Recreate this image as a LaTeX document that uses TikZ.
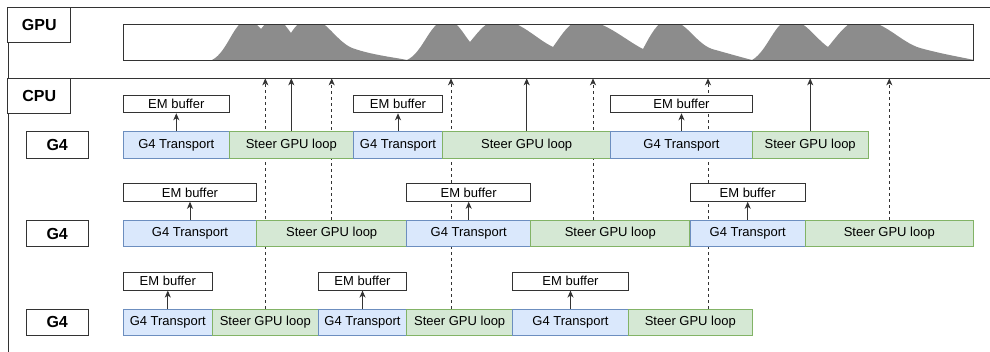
\documentclass[tikz,border=0pt]{standalone}
\usepackage{fontspec}
\setmainfont{Liberation Sans}
\usetikzlibrary{arrows.meta, positioning, backgrounds}
\definecolor{tblue}{HTML}{DAE8FC}
\definecolor{tblueline}{HTML}{6C8EBF}
\definecolor{sgreen}{HTML}{D5E8D4}
\definecolor{sgreenline}{HTML}{82B366}
\definecolor{gpugray}{HTML}{8C8C8C}
\definecolor{edge}{HTML}{333333}

\begin{document}
\begin{tikzpicture}[x=1pt, y=-1pt,
    rim/.style={draw=edge, line width=1pt},
    tag/.style={draw=edge, line width=1pt, fill=white, inner sep=0pt, font=\fontsize{16}{19}\selectfont\bfseries},
    blk/.style={line width=1pt, inner sep=0pt, minimum height=26.5pt, font=\fontsize{13}{15}\selectfont},
    trans/.style={blk, draw=tblueline, fill=tblue},
    steer/.style={blk, draw=sgreenline, fill=sgreen},
    buf/.style={draw=edge, line width=1pt, fill=white, inner sep=0pt, minimum height=17.5pt, font=\fontsize{13}{15}\selectfont},
    up/.style={draw=edge, line width=1pt, -{Stealth[length=7pt, width=6pt, inset=2pt]}},
    sync/.style={up, dash pattern=on 3pt off 3pt}]
    \useasboundingbox (0,0) rectangle (990,352);

    % Frame and lane separator
    \draw[rim] (990,7.3) -- (8,7.3) -- (8,352);
    \draw[rim] (8,78.3) -- (990,78.3);
    \coordinate (sep) at (0,78.3);

    % GPU lane with load profile
    \node[tag, minimum width=62.7pt, minimum height=35.4pt] (gputag) at (39.3,25) {GPU};
    \node[minimum width=850pt, minimum height=35pt, inner sep=0pt] (load) at (548.3,42.5) {};
    \begin{scope}
        \clip (load.north west) rectangle (load.south east);
        \fill[gpugray] (212,60)
            .. controls (228,52) and (234,20) .. (248,20)
            .. controls (254,20) and (257,25) .. (261,29)
            .. controls (265,23) and (270,20) .. (276,20)
            .. controls (283,20) and (287,28) .. (291,33)
            .. controls (296,25) and (302,19) .. (311,19)
            .. controls (326,19) and (336,41) .. (352,48)
            .. controls (372,55) and (392,57) .. (407,60)
            .. controls (424,52) and (430,20) .. (447,20)
            .. controls (457,20) and (464,35) .. (470,42)
            .. controls (479,31) and (487,20) .. (499,20)
            .. controls (520,20) and (536,39) .. (553,47)
            .. controls (561,36) and (570,20) .. (582,20)
            .. controls (604,20) and (625,40) .. (643,49)
            .. controls (650,36) and (658,20) .. (668,20)
            .. controls (686,20) and (695,43) .. (712,49)
            .. controls (730,54) and (744,58) .. (752,60)
            .. controls (768,51) and (775,20) .. (790,20)
            .. controls (805,20) and (815,38) .. (828,47)
            .. controls (838,35) and (848,20) .. (860,20)
            .. controls (884,20) and (900,42) .. (920,48)
            .. controls (942,54) and (960,57) .. (974,60)
            -- cycle;
    \end{scope}
    \draw[rim] (load.north west) rectangle (load.south east);

    % CPU lane
    \node[tag, minimum width=62.7pt, minimum height=35pt] (cputag) at (39.3,95.8) {CPU};

    % Thread 1
    \node[tag, minimum width=62.3pt, minimum height=26.5pt] (g4a) at (57.2,145) {G4};
    \node[trans, minimum width=106pt] (r1t1) at (176.3,145) {G4 Transport};
    \node[steer, minimum width=124pt] (r1s1) at (291.3,145) {Steer GPU loop};
    \node[trans, minimum width=89.4pt] (r1t2) at (398,145) {G4 Transport};
    \node[steer, minimum width=168pt] (r1s2) at (526.7,145) {Steer GPU loop};
    \node[trans, minimum width=141.6pt] (r1t3) at (681.5,145) {G4 Transport};
    \node[steer, minimum width=115.7pt] (r1s3) at (810.2,145) {Steer GPU loop};
    \node[buf, minimum width=106pt, above=18pt of r1t1] (b1a) {EM buffer};
    \node[buf, minimum width=89.4pt, above=18pt of r1t2] (b1b) {EM buffer};
    \node[buf, minimum width=141.6pt, above=18pt of r1t3] (b1c) {EM buffer};

    % Thread 2
    \node[tag, minimum width=62.3pt, minimum height=26.5pt] (g4b) at (57.2,233.5) {G4};
    \node[trans, minimum width=133.4pt] (r2t1) at (190,233.5) {G4 Transport};
    \node[steer, minimum width=150pt] (r2s1) at (331.7,233.5) {Steer GPU loop};
    \node[trans, minimum width=124pt] (r2t2) at (468.7,233.5) {G4 Transport};
    \node[steer, minimum width=159.3pt] (r2s2) at (610.3,233.5) {Steer GPU loop};
    \node[trans, minimum width=115.3pt] (r2t3) at (747.7,233.5) {G4 Transport};
    \node[steer, minimum width=168pt] (r2s3) at (889.3,233.5) {Steer GPU loop};
    \node[buf, minimum width=133.4pt, above=18pt of r2t1] (b2a) {EM buffer};
    \node[buf, minimum width=124pt, above=18pt of r2t2] (b2b) {EM buffer};
    \node[buf, minimum width=115.3pt, above=18pt of r2t3] (b2c) {EM buffer};

    % Thread 3
    \node[tag, minimum width=62.3pt, minimum height=26.5pt] (g4c) at (57.2,322.3) {G4};
    \node[trans, minimum width=89pt] (r3t1) at (167.8,322.3) {G4 Transport};
    \node[steer, minimum width=106pt] (r3s1) at (265.3,322.3) {Steer GPU loop};
    \node[trans, minimum width=88.4pt] (r3t2) at (362.5,322.3) {G4 Transport};
    \node[steer, minimum width=106pt] (r3s2) at (459.7,322.3) {Steer GPU loop};
    \node[trans, minimum width=115.6pt] (r3t3) at (570.5,322.3) {G4 Transport};
    \node[steer, minimum width=124pt] (r3s3) at (690.3,322.3) {Steer GPU loop};
    \node[buf, minimum width=89pt, above=18pt of r3t1] (b3a) {EM buffer};
    \node[buf, minimum width=88.4pt, above=18pt of r3t2] (b3b) {EM buffer};
    \node[buf, minimum width=115.6pt, above=18pt of r3t3] (b3c) {EM buffer};

    % Fill EM buffers
    \draw[up] (r1t1.north) -- (b1a.south);
    \draw[up] (r1t2.north) -- (b1b.south);
    \draw[up] (r1t3.north) -- (b1c.south);
    \draw[up] (r2t1.north) -- (b2a.south);
    \draw[up] (r2t2.north) -- (b2b.south);
    \draw[up] (r2t3.north) -- (b2c.south);
    \draw[up] (r3t1.north) -- (b3a.south);
    \draw[up] (r3t2.north) -- (b3b.south);
    \draw[up] (r3t3.north) -- (b3c.south);

    % Kernel launches of thread 1
    \draw[up] (r1s1.north) -- (r1s1.north |- sep);
    \draw[up] (r1s2.north) -- (r1s2.north |- sep);
    \draw[up] (r1s3.north) -- (r1s3.north |- sep);

    % Kernel launches of threads 2 and 3, behind the blocks
    \coordinate (d1) at (265.3,78.3);
    \coordinate (d2) at (331.7,78.3);
    \coordinate (d3) at (451,78.3);
    \coordinate (d4) at (593,78.3);
    \coordinate (d5) at (708,78.3);
    \coordinate (d6) at (889.3,78.3);
    \begin{scope}[on background layer]
        \draw[sync] (d1 |- r3s1.north) -- (d1);
        \draw[sync] (d2 |- r2s1.north) -- (d2);
        \draw[sync] (d3 |- r3s2.north) -- (d3);
        \draw[sync] (d4 |- r2s2.north) -- (d4);
        \draw[sync] (d5 |- r3s3.north) -- (d5);
        \draw[sync] (d6 |- r2s3.north) -- (d6);
    \end{scope}
\end{tikzpicture}
\end{document}
